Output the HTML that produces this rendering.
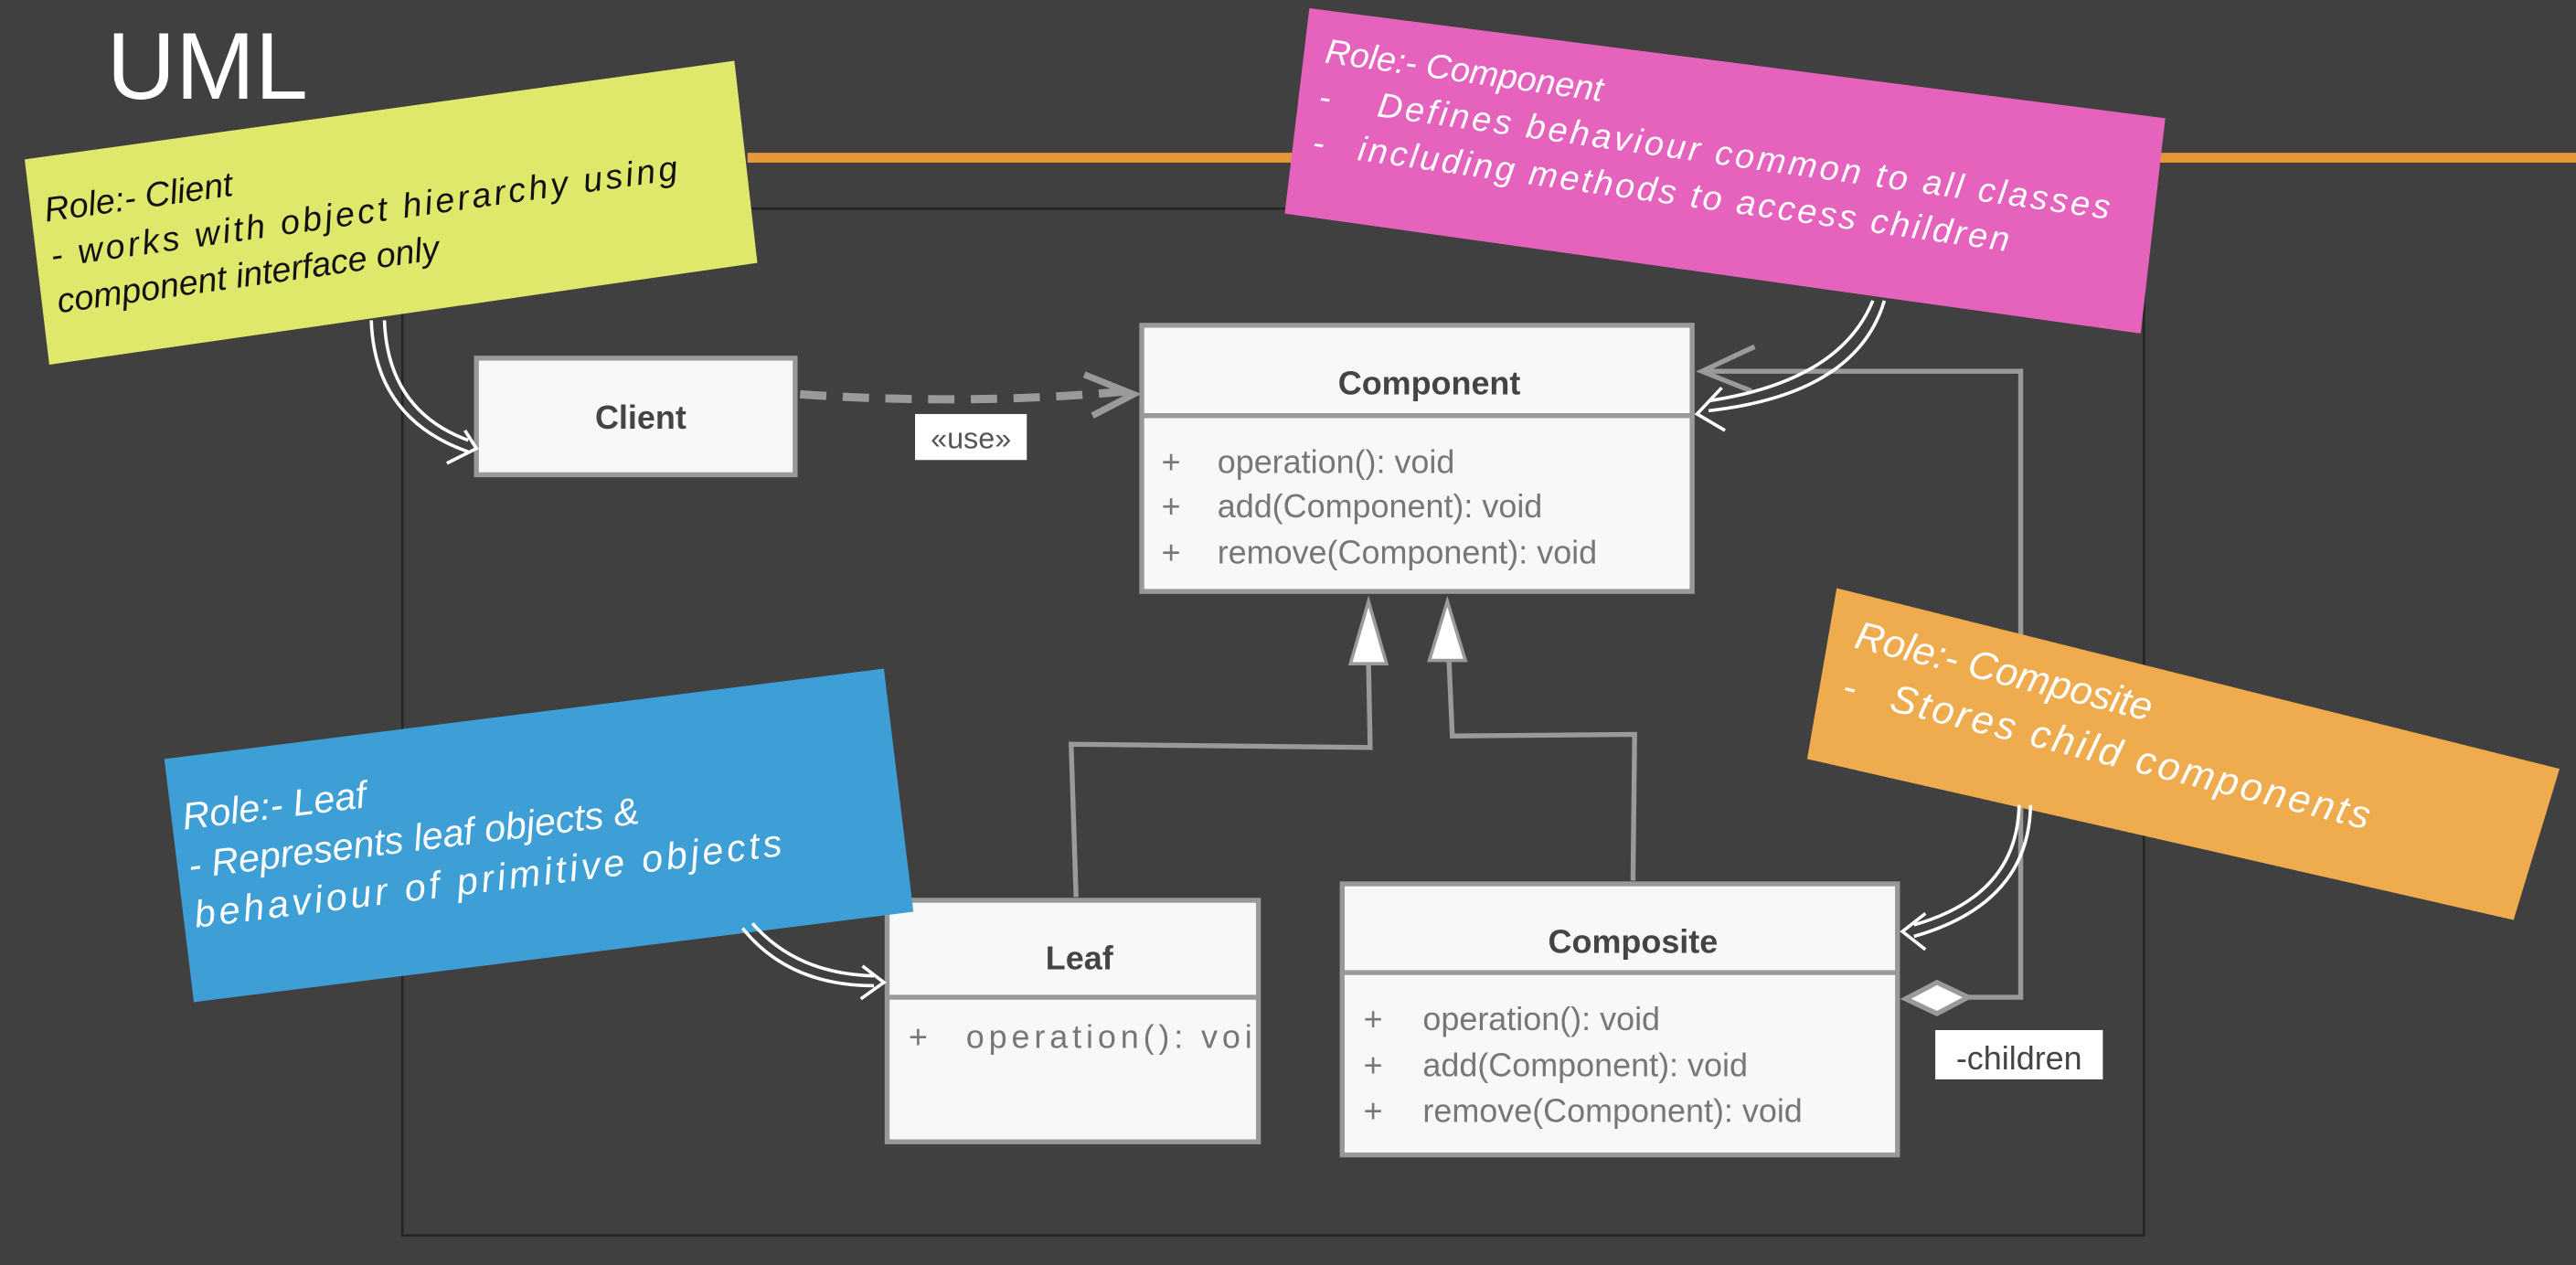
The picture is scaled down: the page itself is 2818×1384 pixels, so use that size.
<!DOCTYPE html>
<html><head><meta charset="utf-8"><style>
html,body{margin:0;padding:0;background:#404040;}
svg{display:block}
.h{font-family:"Liberation Sans",sans-serif;}
</style></head><body>
<svg width="2818" height="1384" viewBox="0 0 1568 770" preserveAspectRatio="none" xmlns="http://www.w3.org/2000/svg">
<rect width="1568" height="770" fill="#404040"/>
<text x="65" y="60" font-family="Liberation Sans,sans-serif" font-size="58" fill="#fff">UML</text>
<rect x="455" y="93" width="1113" height="6" fill="#e8963a"/>
<rect x="245" y="127" width="1060" height="625" fill="none" stroke="#262626" stroke-width="1.5"/>

<!-- Client -->
<rect x="290" y="218" width="194" height="71" fill="#f8f8f8" stroke="#999" stroke-width="3"/>
<text x="390" y="261" text-anchor="middle" class="h" font-weight="bold" font-size="20" fill="#444">Client</text>
<path d="M487 240 Q590 247 688 238" fill="none" stroke="#9a9a9a" stroke-width="5" stroke-dasharray="16,10"/>
<path d="M660 228 L690 240 L665 253" fill="none" stroke="#9a9a9a" stroke-width="4"/>
<rect x="557" y="252" width="68" height="28" fill="#fff"/>
<text x="591" y="273" text-anchor="middle" class="h" font-size="18" fill="#555">«use»</text>

<!-- Component -->
<rect x="695" y="198" width="335" height="162" fill="#f8f8f8" stroke="#999" stroke-width="3"/>
<line x1="695" y1="253" x2="1030" y2="253" stroke="#999" stroke-width="3"/>
<text x="870" y="240" text-anchor="middle" class="h" font-weight="bold" font-size="20" fill="#444">Component</text>
<g class="h" font-size="20" fill="#777">
<text x="707" y="288">+</text><text x="741" y="288">operation(): void</text>
<text x="707" y="315">+</text><text x="741" y="315">add(Component): void</text>
<text x="707" y="343">+</text><text x="741" y="343">remove(Component): void</text>
</g>

<!-- generalization -->
<g stroke="#9a9a9a" stroke-width="3" fill="none">
<path d="M833 402 L834 455 L652 453 L655 546"/>
<path d="M882 402 L884 448 L995 447 L994 536"/>
</g>
<path d="M833 366 L822 404 L844 404 Z" fill="#fff" stroke="#9a9a9a" stroke-width="2"/>
<path d="M881 366 L870 402 L892 402 Z" fill="#fff" stroke="#9a9a9a" stroke-width="2"/>

<!-- Leaf -->
<rect x="540" y="548" width="226" height="147" fill="#f8f8f8" stroke="#999" stroke-width="3"/>
<line x1="540" y1="607" x2="766" y2="607" stroke="#999" stroke-width="3"/>
<text x="657" y="590" text-anchor="middle" class="h" font-weight="bold" font-size="20" fill="#444">Leaf</text>
<svg x="540" y="610" width="224" height="40" viewBox="540 610 224 40" overflow="hidden">
<g class="h" font-size="20" fill="#777"><text x="553" y="638">+</text><text x="588" y="638" textLength="188">operation(): void</text></g>
</svg>

<!-- Composite -->
<rect x="817" y="538" width="338" height="165" fill="#f8f8f8" stroke="#999" stroke-width="3"/>
<line x1="817" y1="592" x2="1155" y2="592" stroke="#999" stroke-width="3"/>
<text x="994" y="580" text-anchor="middle" class="h" font-weight="bold" font-size="20" fill="#444">Composite</text>
<g class="h" font-size="20" fill="#777">
<text x="830" y="627">+</text><text x="866" y="627">operation(): void</text>
<text x="830" y="655">+</text><text x="866" y="655">add(Component): void</text>
<text x="830" y="683">+</text><text x="866" y="683">remove(Component): void</text>
</g>

<!-- aggregation -->
<path d="M1198 607 L1230 607 L1230 226 L1036 226" fill="none" stroke="#9a9a9a" stroke-width="3"/>
<path d="M1068 211 L1036 226 L1066 238" fill="none" stroke="#9a9a9a" stroke-width="3"/>
<path d="M1160 608 L1179 598 L1198 607 L1179 617 Z" fill="#fff" stroke="#9a9a9a" stroke-width="3"/>
<rect x="1178" y="627" width="102" height="30" fill="#fff"/>
<text x="1229" y="651" text-anchor="middle" class="h" font-size="20" fill="#444">-children</text>

<!-- sticky notes -->
<polygon points="15,97 447,37 461,160 30,222" fill="#dfe86b"/>
<g transform="translate(28,135) rotate(-8)" font-family="Liberation Sans,sans-serif" font-style="italic" font-size="21" fill="#111">
<text x="0" y="0">Role:- Client</text>
<text x="0" y="28" textLength="385">- works with object hierarchy using</text>
<text x="0" y="56">component interface only</text>
</g>

<polygon points="797,5 1318,72 1303,203 782,130" fill="#e663bd"/>
<g transform="translate(806,38) rotate(8)" font-family="Liberation Sans,sans-serif" font-style="italic" font-size="21" fill="#fff">
<text x="0" y="0">Role:- Component</text>
<text x="0" y="28">-</text><text x="36" y="28" textLength="450">Defines behaviour common to all classes</text>
<text x="0" y="56">-</text><text x="28" y="56" textLength="400">including methods to access children</text>
</g>

<polygon points="100,462 538,407 556,555 118,610" fill="#3e9fd6"/>
<g transform="translate(112,505) rotate(-7)" font-family="Liberation Sans,sans-serif" font-style="italic" font-size="23" fill="#fff">
<text x="0" y="0">Role:- Leaf</text>
<text x="0" y="30">- Represents leaf objects &amp;</text>
<text x="0" y="60" textLength="360">behaviour of primitive objects</text>
</g>

<polygon points="1118,358 1558,468 1530,560 1100,462" fill="#eeac4e"/>
<g transform="translate(1128,394) rotate(14)" font-family="Liberation Sans,sans-serif" font-style="italic" font-size="24" fill="#fff">
<text x="0" y="0">Role:- Composite</text>
<text x="0" y="32">-</text><text x="30" y="32" textLength="300">Stores child components</text>
</g>

<!-- white curved callout arrows -->
<g fill="none" stroke="#fff" stroke-width="2">
<path d="M226 195 Q228 255 285 275"/><path d="M234 195 Q236 250 285 268"/>
<path d="M283 262 L290 273 L272 282"/>
<path d="M1147 183 Q1130 240 1040 250"/><path d="M1140 183 Q1120 232 1040 244"/>
<path d="M1048 236 L1033 252 L1050 262"/>
<path d="M452 565 Q480 600 532 600"/><path d="M458 562 Q485 593 532 594"/>
<path d="M525 588 L538 598 L524 608"/>
<path d="M1236 490 Q1235 550 1165 570"/><path d="M1229 490 Q1228 545 1165 563"/>
<path d="M1172 556 L1158 567 L1172 578"/>
</g>
</svg>
</body></html>
